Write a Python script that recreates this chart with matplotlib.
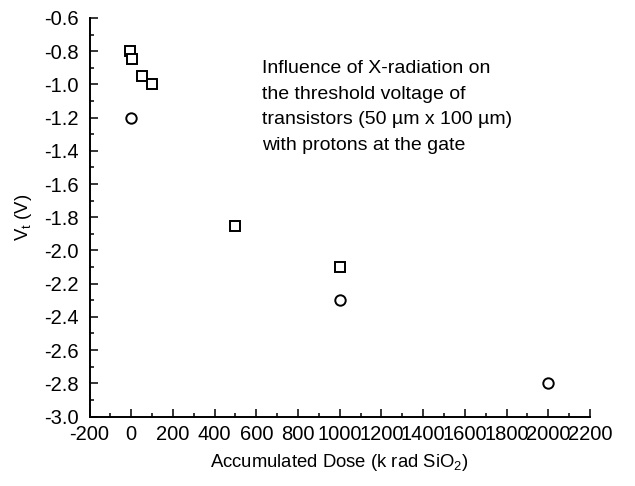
import matplotlib
matplotlib.use('Agg')
import matplotlib.pyplot as plt
from matplotlib.ticker import MultipleLocator

plt.rcParams['font.family'] = ['Liberation Sans', 'DejaVu Sans']
plt.rcParams['axes.unicode_minus'] = False

# squares
sq_dose = [-5, 5, 50, 100, 500, 1000]
sq_vt = [-0.80, -0.85, -0.95, -1.00, -1.85, -2.10]
# circles
ci_dose = [0, 1000, 2000]
ci_vt = [-1.20, -2.30, -2.80]

fig = plt.figure(figsize=(6.35, 4.86), dpi=100)
ax = fig.add_axes([0.141, 0.143, 0.788, 0.820])

ax.plot(sq_dose, sq_vt, 's', ms=6.8, mfc='white', mec='black', mew=1.4, ls='none')
ax.plot(ci_dose, ci_vt, 'o', ms=7.5, mfc='white', mec='black', mew=1.4, ls='none')

ax.set_xlim(-200, 2200)
ax.set_ylim(-3.0, -0.6)
ax.xaxis.set_major_locator(MultipleLocator(200))
ax.xaxis.set_minor_locator(MultipleLocator(100))
ax.yaxis.set_major_locator(MultipleLocator(0.2))
ax.yaxis.set_minor_locator(MultipleLocator(0.1))
ax.yaxis.set_major_formatter(plt.FuncFormatter(lambda v, p: f'{v:.1f}'))

for s in ['top', 'right']:
  ax.spines[s].set_visible(False)
for s in ['left', 'bottom']:
  ax.spines[s].set_linewidth(1.4)

ax.tick_params(which='both', direction='in', width=1.1, labelsize=14.5)
ax.tick_params(axis='x', pad=6)
ax.tick_params(axis='y', pad=8)
ax.tick_params(which='major', length=6)
ax.tick_params(which='minor', length=3)

ax.set_xlabel('Accumulated Dose (k rad SiO$_\\mathregular{2}$)', fontsize=13.3, labelpad=6)
ax.set_ylabel('V$_\\mathregular{t}$ (V)', fontsize=13.3, labelpad=7)

fig.text(262 / 635, 1 - 107 / 486,
         'Influence of X-radiation on\nthe threshold voltage of\ntransistors (50 \u00b5m x 100 \u00b5m)\nwith protons at the gate',
         fontsize=14, va='center', ha='left', linespacing=1.67)

fig.savefig('out.png', dpi=100)
